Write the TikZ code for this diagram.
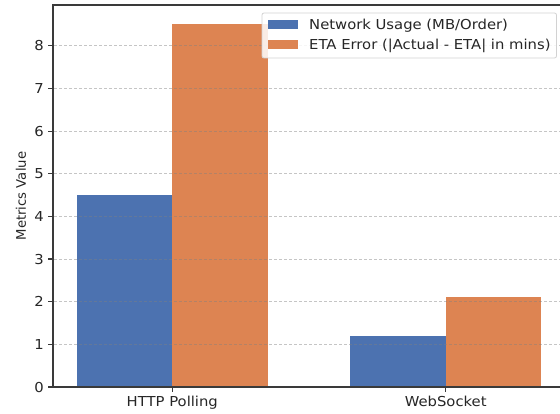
\documentclass[tikz,border=0pt]{standalone}
\usepackage{fontspec}
\usepackage{graphicx}
\setmainfont{DejaVu Sans}
\definecolor{barblue}{HTML}{4C72B0}
\definecolor{barorange}{HTML}{DD8452}
\definecolor{spine}{HTML}{3A3A3A}
\newcommand\hs[1]{\scalebox{1.08}[1]{#1}}
\tikzset{
  spineline/.style={draw=spine, line width=1.3pt},
  gridline/.style={draw=gray, opacity=0.45, line width=0.9pt, dash pattern=on 3pt off 2pt},
  tickline/.style={draw=spine, line width=1.1pt},
  ticklab/.style={inner sep=0pt, font=\fontsize{13.7}{16}\selectfont, text=black!85},
  legtext/.style={inner sep=0pt, anchor=base west, font=\fontsize{13.7}{16}\selectfont, text=black!85},
  bluebar/.style={fill=barblue, draw=none},
  orangebar/.style={fill=barorange, draw=none},
}
\begin{document}
\begin{tikzpicture}[x=1pt, y=-1pt]
\useasboundingbox (0,0) rectangle (560,414);
\fill[white] (0,0) rectangle (560,414);
% bars
\path[bluebar]   (76.8,387) rectangle (172.3,195.1);
\path[orangebar] (172.3,387) rectangle (267.8,24.5);
\path[bluebar]   (350.2,387) rectangle (445.7,335.8);
\path[orangebar] (445.7,387) rectangle (541.2,297.4);
% grid
\foreach \v/\yy in {1/344.35,2/301.7,3/259.05,4/216.4,5/173.75,6/131.1,7/88.45,8/45.8}{
  \draw[gridline] (54,\yy) -- (560,\yy);
}
% spines
\draw[spineline] (53,5) -- (560,5);
\draw[spineline] (53,4.4) -- (53,387.6);
\draw[spineline] (52.4,387) -- (560,387);
% y ticks
\foreach \v/\yy in {0/387,1/344.35,2/301.7,3/259.05,4/216.4,5/173.75,6/131.1,7/88.45,8/45.8}{
  \draw[tickline] (48,\yy) -- (53,\yy);
  \node[ticklab, anchor=base east] (yt\v) at (44,\yy+5) {\hs{\v}};
}
% x ticks
\draw[tickline] (172.3,387) -- (172.3,392);
\draw[tickline] (445.7,387) -- (445.7,392);
\node[ticklab, anchor=base] (xt0) at (172.3,406.5) {\hs{HTTP Polling}};
\node[ticklab, anchor=base] (xt1) at (445.7,406.5) {\hs{WebSocket}};
% y label
\node[inner sep=0pt, rotate=90, font=\fontsize{13.2}{16}\selectfont, text=black!85] (ylab) at (21,196) {Metrics Value};
% legend
\path[draw=gray!35, fill=white, fill opacity=0.85, line width=0.8pt, rounded corners=2pt] (262,13) rectangle (556.5,58);
\path[bluebar]   (268,20) rectangle (297.5,29.3);
\path[orangebar] (268,40.5) rectangle (297.5,49.5);
\node[legtext] (leg1) at (309,29.5) {\hs{Network Usage (MB/Order)}};
\node[legtext] (leg2) at (309,50) {\hs{ETA Error (|Actual - ETA| in mins)}};
\end{tikzpicture}
\end{document}
